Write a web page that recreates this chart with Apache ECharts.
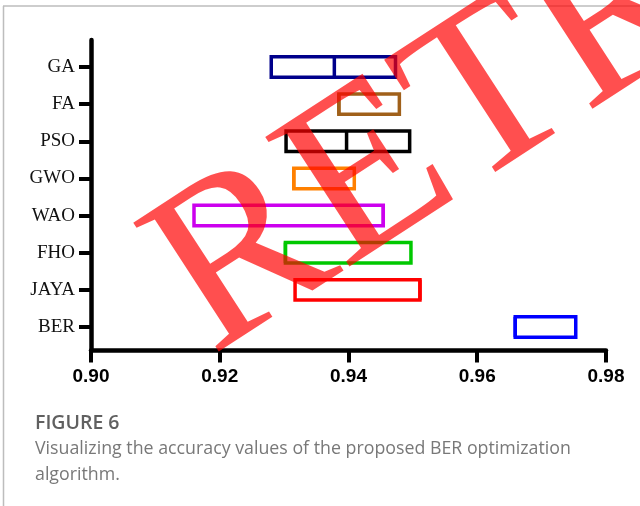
<!DOCTYPE html>
<html>
<head>
<meta charset="utf-8">
<script src="https://cdn.jsdelivr.net/npm/echarts@6/dist/echarts.min.js"></script>
<style>
html,body{margin:0;padding:0;background:#fff;}
#chart{width:640px;height:506px;}
</style>
</head>
<body>
<div id="chart"></div>
<script>
// Data
const categories = ['GA', 'FA', 'PSO', 'GWO', 'WAO', 'FHO', 'JAYA', 'BER'];
const lowValues = [0.9280, 0.9385, 0.9303, 0.9315, 0.9160, 0.9302, 0.9317, 0.9659];
const medianValues = [0.9378, 0.9385, 0.9397, 0.9315, 0.9454, 0.9302, 0.9511, 0.9659];
const highValues = [0.9473, 0.9479, 0.9495, 0.9409, 0.9454, 0.9497, 0.9511, 0.9753];
const boxColors = ['#00008B', '#A0601A', '#000000', '#FF8000', '#CC00EE', '#00C800', '#FF0000', '#0000FF'];
const xTicks = [0.90, 0.92, 0.94, 0.96, 0.98];
const captionTitle = 'FIGURE 6';
const captionLines = ['Visualizing the accuracy values of the proposed BER optimization', 'algorithm.'];
const watermark = 'RETRACTED';

const chart = echarts.init(document.getElementById('chart'), null, {renderer: 'canvas'});

const seriesData = categories.map((c, i) => [i, lowValues[i], medianValues[i], highValues[i]]);

function renderBox(params, api) {
  const i = api.value(0);
  const lo = api.coord([api.value(1), i]);
  const md = api.coord([api.value(2), i]);
  const hi = api.coord([api.value(3), i]);
  const h = api.size([0, 1])[1] * 0.55;
  const color = boxColors[i];
  return {
    type: 'group',
    children: [
      {
        type: 'rect',
        shape: {x: lo[0], y: lo[1] - h / 2, width: hi[0] - lo[0], height: h},
        style: {fill: 'rgba(0,0,0,0)', stroke: color, lineWidth: 3.5}
      },
      {
        type: 'line',
        shape: {x1: md[0], y1: md[1] - h / 2, x2: md[0], y2: md[1] + h / 2},
        style: {stroke: color, lineWidth: 3.5}
      }
    ]
  };
}

const option = {
  backgroundColor: '#fff',
  animation: false,
  grid: {left: 91, right: 34, top: 40, bottom: 155.5, containLabel: false},
  xAxis: {
    type: 'value',
    min: xTicks[0],
    max: xTicks[xTicks.length - 1],
    interval: 0.02,
    splitLine: {show: false},
    axisLine: {show: true, onZero: false, lineStyle: {color: '#000', width: 4.5}},
    axisTick: {show: true, length: 12, lineStyle: {color: '#000', width: 4}},
    axisLabel: {
      margin: 17,
      fontFamily: 'Liberation Sans',
      fontWeight: 'bold',
      fontSize: 19,
      color: '#000',
      formatter: v => v.toFixed(2)
    }
  },
  yAxis: {
    type: 'value',
    inverse: true,
    min: -0.727,
    max: 7.633,
    splitLine: {show: false},
    axisLine: {show: true, onZero: false, lineStyle: {color: '#000', width: 4.5}},
    axisTick: {show: true, length: 12, customValues: categories.map((c, i) => i), lineStyle: {color: '#000', width: 4}},
    axisLabel: {
      margin: 16,
      customValues: categories.map((c, i) => i),
      fontFamily: 'Liberation Serif',
      fontSize: 19,
      color: '#111',
      formatter: v => categories[Math.round(v)] || ''
    }
  },
  series: [{
    type: 'custom',
    renderItem: renderBox,
    encode: {x: [1, 2, 3], y: 0},
    data: seriesData,
    z: 5
  }],
  graphic: [
    {type: 'line', shape: {x1: 3, y1: 6, x2: 640, y2: 6}, style: {stroke: '#bdbdbd', lineWidth: 1.5}, z: 1},
    {type: 'line', shape: {x1: 3.5, y1: 6, x2: 3.5, y2: 506}, style: {stroke: '#bdbdbd', lineWidth: 1.5}, z: 1},
    {type: 'text', x: 35, y: 423, style: {text: captionTitle, fill: '#606060', font: '600 19.5px "Open Sans"', verticalAlign: 'middle', align: 'left'}, z: 1},
    {type: 'text', x: 35, y: 449, style: {text: captionLines[0], fill: '#787878', font: '17.8px "Open Sans"', verticalAlign: 'middle', align: 'left'}, z: 1},
    {type: 'text', x: 35, y: 475, style: {text: captionLines[1], fill: '#787878', font: '17.8px "Open Sans"', verticalAlign: 'middle', align: 'left'}, z: 1},
    {type: 'text', x: 178, y: 304, rotation: 33 * Math.PI / 180,
     style: {text: watermark, fill: 'rgba(255,0,0,0.69)', font: '236px "Liberation Serif"', verticalAlign: 'middle', align: 'left'}, z: 100}
  ]
};
chart.setOption(option);
</script>
</body>
</html>
